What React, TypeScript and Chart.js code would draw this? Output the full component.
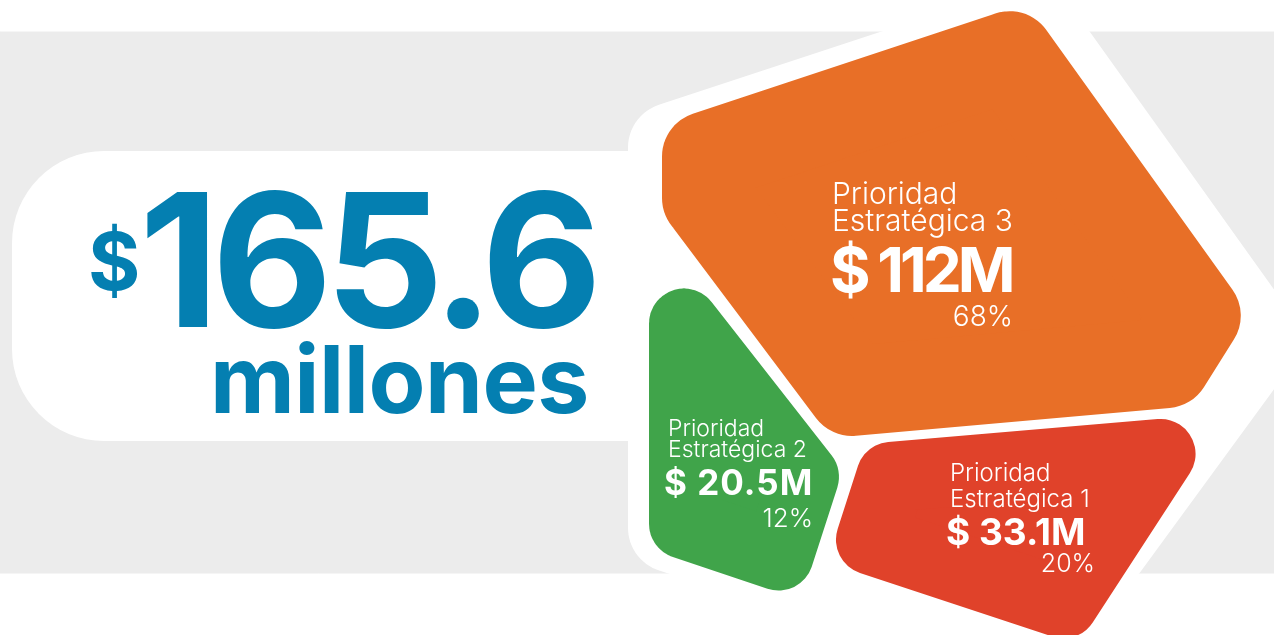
import React, { useEffect, useRef } from "react";
import { Chart, registerables } from "chart.js";

Chart.register(...registerables);

// ---------- data ----------
const categories = ["Prioridad Estratégica 3", "Prioridad Estratégica 2", "Prioridad Estratégica 1"];
const amountsM = [112, 20.5, 33.1];
const sharesPct = [68, 12, 20];
const totalM = 165.6;
const totalUnit = "millones";
const currency = "$";

// ---------- styles / layout ----------
const W = 1274;
const H = 635;
const BLUE = "#047fb1";
const GRAY = "#ececec";
const cellColors = ["#e86f27", "#40a44a", "#e0422a"];

// outlines of the treemap cells (canvas units), with corner radius
const cellShapes: number[][][] = [
  [[1027, 3], [662, 124], [662, 213], [831, 438], [1192, 406], [1250, 314]],
  [[649, 222], [649, 549], [801, 600], [843, 470]],
  [[865, 444], [827, 562], [1078, 645], [1229, 413]],
];
const cellRadius = [45, 35, 35];
const bandShape = [[0, 32], [W, 32], [W, 573], [0, 573]];
const panelShape = [[12, 151], [760, 151], [760, 441], [12, 441]];
const frameShape = [[1050, -24], [628, 115], [628, 560], [1046, 701], [1310, 340]];

const labelLayout = [
  { x: 832, b1: 204, b2: 231, s1: 30, vx: 830, bv: 293, sv: 62, lsv: -4, pr: 1013, bp: 326, sp: 28 },
  { x: 668, b1: 437, b2: 458, s1: 23, vx: 664, bv: 495, sv: 35, lsv: 1, pr: 813, bp: 527, sp: 26 },
  { x: 950, b1: 482, b2: 508, s1: 24, vx: 946, bv: 545, sv: 37, lsv: 0, pr: 1095, bp: 573, sp: 25 },
];

const FONT = "Inter, 'Liberation Sans', Arial, sans-serif";
const K = 0.8635; // baseline offset ratio for line-height = font-size

function insetPolygon(pts: number[][], r: number): number[][] {
  if (r <= 0) return pts.map((p) => [p[0], p[1]]);
  const n = pts.length;
  const cx = pts.reduce((s, p) => s + p[0], 0) / n;
  const cy = pts.reduce((s, p) => s + p[1], 0) / n;
  const lines = pts.map((p, i) => {
    const q = pts[(i + 1) % n];
    let dx = q[0] - p[0];
    let dy = q[1] - p[1];
    const len = Math.hypot(dx, dy);
    dx /= len;
    dy /= len;
    let nx = -dy;
    let ny = dx;
    const mx = (p[0] + q[0]) / 2;
    const my = (p[1] + q[1]) / 2;
    if (nx * (cx - mx) + ny * (cy - my) < 0) {
      nx = -nx;
      ny = -ny;
    }
    return { px: p[0] + nx * r, py: p[1] + ny * r, dx, dy };
  });
  return pts.map((_, i) => {
    const a = lines[(i - 1 + n) % n];
    const b = lines[i];
    const cross = a.dx * b.dy - a.dy * b.dx;
    const t = ((b.px - a.px) * b.dy - (b.py - a.py) * b.dx) / cross;
    return [a.px + a.dx * t, a.py + a.dy * t];
  });
}

function shapeDataset(pts: number[][], r: number, color: string, order: number) {
  const inner = insetPolygon(pts, r);
  const closed = [...inner, inner[0]];
  return {
    data: closed.map(([x, y]) => ({ x, y })),
    showLine: true,
    fill: "shape",
    backgroundColor: color,
    borderColor: color,
    borderWidth: r > 0 ? 2 * r : 1,
    borderJoinStyle: "round",
    borderCapStyle: "round",
    pointRadius: 0,
    pointHoverRadius: 0,
    tension: 0,
    order,
  } as any;
}

type TextItem = {
  text: string;
  size: number;
  weight: number;
  baseline: number;
  left?: number;
  right?: number;
  color: string;
  ls?: number;
};

function fmtAmount(v: number) {
  return `${currency} ${v}M`;
}

export default function App() {
  const canvasRef = useRef<HTMLCanvasElement>(null);

  useEffect(() => {
    const datasets = [
      shapeDataset(bandShape, 0, GRAY, 10),
      shapeDataset(panelShape, 92, "#ffffff", 9),
      shapeDataset(frameShape, 45, "#ffffff", 8),
      ...amountsM.map((_, i) => shapeDataset(cellShapes[i], cellRadius[i], cellColors[i], 1)),
    ];
    const chart = new Chart(canvasRef.current as HTMLCanvasElement, {
      type: "scatter",
      data: { datasets },
      options: {
        animation: false,
        responsive: false,
        events: [],
        layout: { padding: 0 },
        plugins: { legend: { display: false }, tooltip: { enabled: false } },
        scales: {
          x: { type: "linear", min: 0, max: W, display: false },
          y: { type: "linear", min: 0, max: H, reverse: true, display: false },
        },
      },
    } as any);
    return () => chart.destroy();
  }, []);

  const texts: TextItem[] = [
    { text: currency, size: 80, weight: 700, baseline: 290, left: 88, color: BLUE },
    { text: String(totalM), size: 186, weight: 700, baseline: 328, left: 139, color: BLUE, ls: -7.5 },
    { text: totalUnit, size: 93, weight: 700, baseline: 413, left: 210, color: BLUE, ls: -0.5 },
  ];
  categories.forEach((cat, i) => {
    const L = labelLayout[i];
    const sp = cat.indexOf(" ");
    texts.push({ text: cat.slice(0, sp), size: L.s1, weight: 300, baseline: L.b1, left: L.x, color: "#fff" });
    texts.push({ text: cat.slice(sp + 1), size: L.s1, weight: 300, baseline: L.b2, left: L.x, color: "#fff" });
    texts.push({ text: fmtAmount(amountsM[i]), size: L.sv, weight: 700, baseline: L.bv, left: L.vx, color: "#fff", ls: L.lsv });
    texts.push({ text: `${sharesPct[i]}%`, size: L.sp, weight: 300, baseline: L.bp, right: L.pr, color: "#fff" });
  });

  return (
    <div style={{ position: "absolute", left: 0, top: 0, width: W, height: H, overflow: "hidden", background: "#fff" }}>
      <canvas ref={canvasRef} width={W} height={H} style={{ position: "absolute", left: 0, top: 0, width: W, height: H }} />
      {texts.map((t, i) => (
        <div
          key={i}
          style={{
            position: "absolute",
            top: t.baseline - K * t.size,
            left: t.left,
            right: t.right !== undefined ? W - t.right : undefined,
            fontFamily: FONT,
            fontSize: t.size,
            fontWeight: t.weight,
            lineHeight: `${t.size}px`,
            letterSpacing: t.ls ? `${t.ls}px` : undefined,
            color: t.color,
            whiteSpace: "nowrap",
          }}
        >
          {t.text}
        </div>
      ))}
    </div>
  );
}
